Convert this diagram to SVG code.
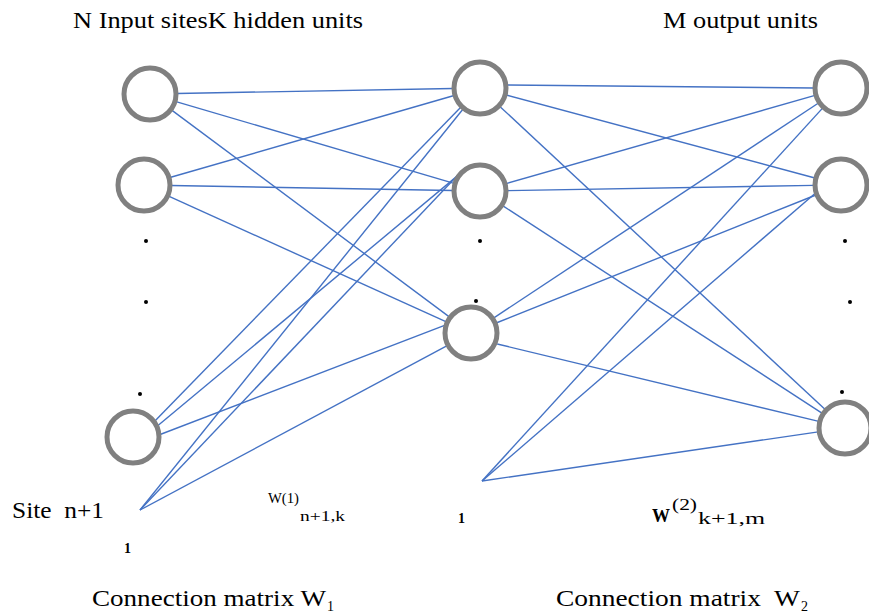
<svg xmlns="http://www.w3.org/2000/svg" width="869" height="616" viewBox="0 0 869 616">
  <style>
    .unit { fill: #ffffff; stroke: #808080; stroke-width: 5; }
    .dot { fill: #000000; }
    .wire { stroke: #4472c4; stroke-width: 1.4; fill: none; }
    .lbl { font-family: "Liberation Serif", "Times New Roman", serif; fill: #000000; }
    .big { font-size: 23px; }
    .small { font-size: 14px; }
    .bold { font-weight: bold; }
  </style>
  <rect width="869" height="616" fill="#ffffff"/>

  <!-- weight connections -->
  <g id="connectors" class="wire">
    <!-- input layer to hidden layer -->
    <line x1="177" y1="93.5" x2="453" y2="88.5"/>
    <line x1="176" y1="101.6" x2="454" y2="183.4"/>
    <line x1="171.7" y1="110.1" x2="449.3" y2="316.9"/>
    <line x1="169.9" y1="177.5" x2="454.1" y2="95.5"/>
    <line x1="171" y1="185.5" x2="453" y2="190.5"/>
    <line x1="168.6" y1="196.1" x2="446.4" y2="321.9"/>
    <line x1="152" y1="424" x2="461" y2="106.9"/>
    <line x1="155" y1="428" x2="458" y2="175.4"/>
    <line x1="158.8" y1="435" x2="445.2" y2="325.1"/>
    <!-- bias site n+1 to hidden layer -->
    <line x1="140" y1="510" x2="463.1" y2="109"/>
    <line x1="140" y1="510" x2="460.3" y2="172.5"/>
    <line x1="140" y1="510" x2="447.2" y2="345.7"/>
    <!-- hidden layer to output layer -->
    <line x1="507" y1="85" x2="814" y2="88"/>
    <line x1="506.1" y1="95" x2="814.9" y2="178"/>
    <line x1="499.8" y1="106.4" x2="825.2" y2="409.6"/>
    <line x1="506" y1="183.6" x2="815" y2="95.4"/>
    <line x1="507" y1="190.6" x2="814" y2="185.4"/>
    <line x1="502.6" y1="205.7" x2="822.3" y2="413.3"/>
    <line x1="493.5" y1="318.1" x2="818.5" y2="103"/>
    <line x1="496.1" y1="323" x2="815.9" y2="195"/>
    <line x1="497.2" y1="344" x2="818.8" y2="421.4"/>
    <!-- hidden bias to output layer -->
    <line x1="482" y1="481" x2="822.8" y2="107.9"/>
    <line x1="482" y1="481" x2="820.2" y2="189"/>
    <line x1="482" y1="481" x2="818.3" y2="431.9"/>
  </g>

  <!-- input sites -->
  <g id="input-1"><circle class="unit" cx="150" cy="94" r="26"/></g>
  <g id="input-2"><circle class="unit" cx="144" cy="185" r="26"/></g>
  <g id="input-n"><circle class="unit" cx="133" cy="437" r="26"/></g>
  <g id="input-dots">
    <circle class="dot" cx="146" cy="241" r="2"/>
    <circle class="dot" cx="146" cy="302" r="2"/>
    <circle class="dot" cx="140" cy="394" r="2"/>
  </g>

  <!-- hidden units -->
  <g id="hidden-1"><circle class="unit" cx="480" cy="88" r="26"/></g>
  <g id="hidden-2"><circle class="unit" cx="480" cy="191" r="26"/></g>
  <g id="hidden-k"><circle class="unit" cx="471" cy="333" r="26"/></g>
  <g id="hidden-dots">
    <circle class="dot" cx="480" cy="241" r="2"/>
    <circle class="dot" cx="476" cy="301" r="2"/>
  </g>

  <!-- output units -->
  <g id="output-1"><circle class="unit" cx="841" cy="88" r="26"/></g>
  <g id="output-2"><circle class="unit" cx="841" cy="185" r="26"/></g>
  <g id="output-m"><circle class="unit" cx="845" cy="428" r="26"/></g>
  <g id="output-dots">
    <circle class="dot" cx="845" cy="241" r="2"/>
    <circle class="dot" cx="850" cy="302" r="2"/>
    <circle class="dot" cx="842" cy="392" r="2"/>
  </g>

  <!-- headings -->
  <g id="headings" class="lbl big">
    <text x="73" y="28" textLength="290" lengthAdjust="spacingAndGlyphs">N Input sitesK hidden units</text>
    <text x="663" y="28" textLength="155" lengthAdjust="spacingAndGlyphs">M output units</text>
  </g>

  <!-- bias sites and weight labels -->
  <g id="bias-1" class="lbl">
    <text class="big" x="12" y="518" xml:space="preserve" textLength="92" lengthAdjust="spacingAndGlyphs">Site  n+1</text>
    <text class="small bold" x="124" y="553">1</text>
  </g>
  <g id="bias-2" class="lbl">
    <text class="small bold" x="458" y="523">1</text>
  </g>
  <g id="weight-1" class="lbl">
    <text x="268" y="503" font-size="15" textLength="31" lengthAdjust="spacingAndGlyphs">W(1)</text>
    <text x="300" y="521" font-size="15" textLength="45" lengthAdjust="spacingAndGlyphs">n+1,k</text>
  </g>
  <g id="weight-2" class="lbl">
    <text x="652" y="522" font-size="18" font-weight="bold">W</text>
    <text x="672" y="510" font-size="17" textLength="25" lengthAdjust="spacingAndGlyphs">(2)</text>
    <text x="698" y="524" font-size="16" textLength="67" lengthAdjust="spacingAndGlyphs">k+1,m</text>
  </g>

  <!-- matrix captions -->
  <g id="caption-1" class="lbl">
    <text class="big" x="92" y="606" textLength="234" lengthAdjust="spacingAndGlyphs">Connection matrix W</text>
    <text x="327" y="611" font-size="14">1</text>
  </g>
  <g id="caption-2" class="lbl">
    <text class="big" x="556" y="606" xml:space="preserve" textLength="244" lengthAdjust="spacingAndGlyphs">Connection matrix  W</text>
    <text x="801" y="611" font-size="14">2</text>
  </g>
</svg>
